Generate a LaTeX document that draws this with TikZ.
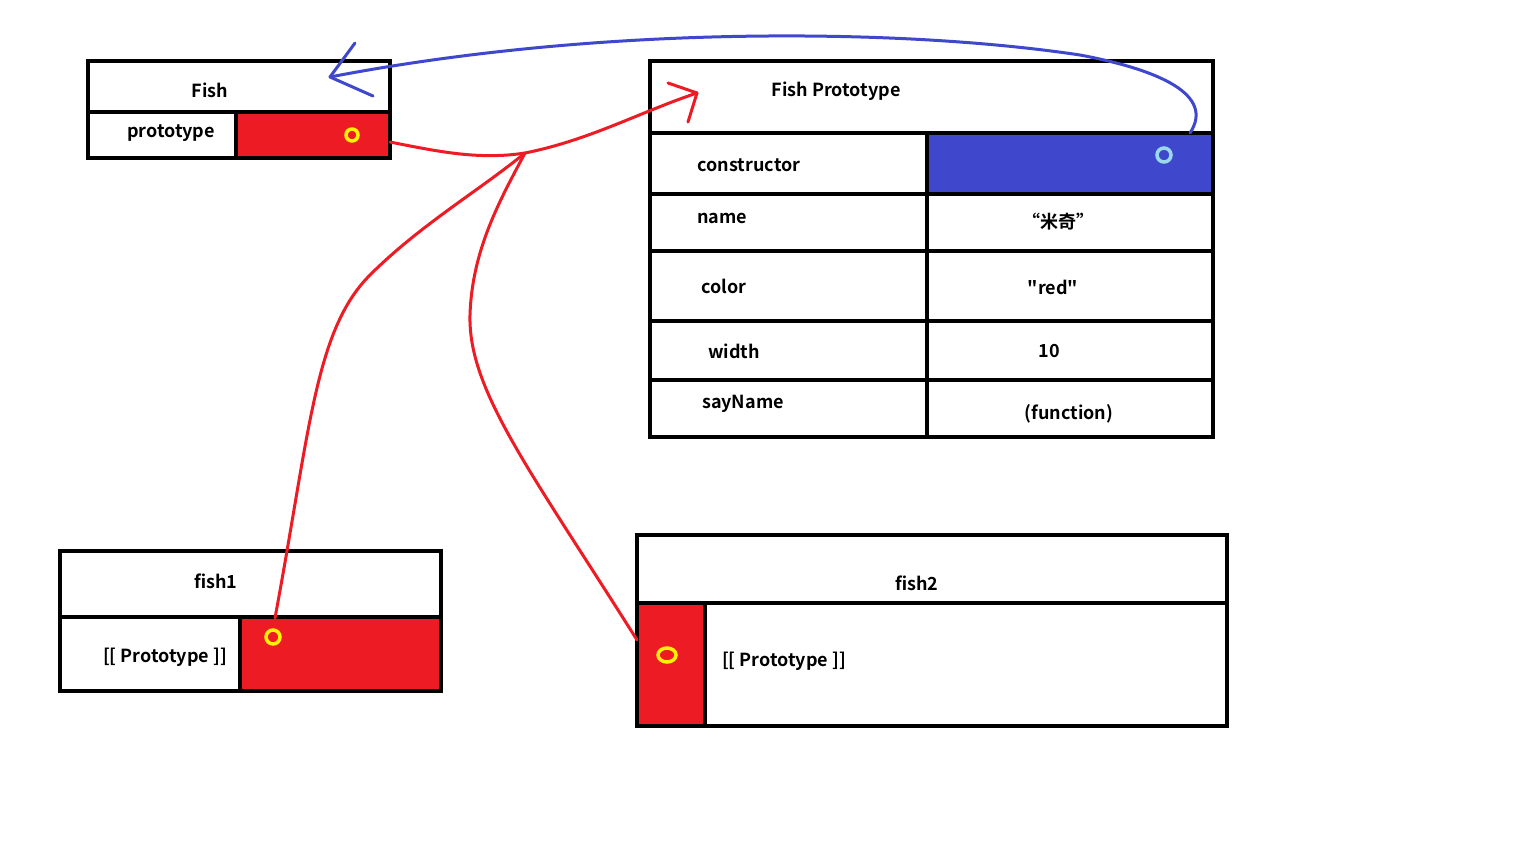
\documentclass[tikz,border=0pt]{standalone}
\usepackage{fontspec}
\newfontfamily\labelfont{Noto Sans CJK SC Bold}
\begin{document}
\definecolor{pred}{HTML}{ED1C24}
\definecolor{pblue}{HTML}{3F48CC}
\definecolor{pyellow}{HTML}{FFF200}
\definecolor{pcyan}{HTML}{99D9EA}
\tikzset{
  box/.style={draw=black, line width=4pt},
  sep/.style={draw=black, line width=4pt},
  lbl/.style={font=\labelfont\fontsize{18}{20}\selectfont, inner sep=0pt},
  link/.style={draw=pred, line width=3pt, line cap=round, line join=round},
  back/.style={draw=pblue, line width=3pt, line cap=round, line join=round},
  ring/.style={draw=pyellow, line width=3.5pt},
}
\begin{tikzpicture}[x=1pt, y=-1pt]
\useasboundingbox[fill=white] (0,0) rectangle (1536,864);

% ---- Fish constructor ----
\fill[pred] (236,112) rectangle (390,158);
\draw[box] (88,61) rectangle (390,158);
\draw[sep] (88,112) -- (390,112);
\draw[sep] (236,112) -- (236,158);
\draw[ring] (352,135) circle (6);
\node[lbl] (fishT) at (210,90) {Fish};
\node[lbl] (fishP) at (171,133) {prototype};
\coordinate (fishOut) at (390,142);
\coordinate (fishIn) at (330,77);

% ---- Fish Prototype table ----
\fill[pblue] (927,133) rectangle (1213,194);
\draw[box] (650,61) rectangle (1213,437);
\foreach \yy in {133,194,251,321,380} \draw[sep] (650,\yy) -- (1213,\yy);
\draw[sep] (927,133) -- (927,437);
\draw[draw=pcyan, line width=3.5pt] (1164,155) circle (7);
\node[lbl] (protoT) at (836,91) {Fish Prototype};
\node[lbl] (kCons) at (749,165) {constructor};
\node[lbl] (kName) at (722,218) {name};
\node[lbl] (kColor) at (724,286) {color};
\node[lbl] (kWidth) at (734,351) {width};
\node[lbl] (kSay) at (743,404) {sayName};
\node[lbl] (vName) at (1058,222) {“米奇”};
\node[lbl] (vColor) at (1053,287) {"red"};
\node[lbl] (vWidth) at (1049,351) {10};
\node[lbl] (vSay) at (1069,414) {(function)};
\coordinate (consOut) at (1190,133);
\coordinate (protoIn) at (697,93);

% ---- fish1 instance ----
\fill[pred] (240,617) rectangle (441,691);
\draw[box] (60,551) rectangle (441,691);
\draw[sep] (60,617) -- (441,617);
\draw[sep] (240,617) -- (240,691);
\draw[ring] (273,637) circle (7);
\node[lbl] (f1T) at (216,581) {fish1};
\node[lbl] (f1P) at (165,657) {[[ Prototype ]]};
\coordinate (f1Out) at (275,618);

% ---- fish2 instance ----
\fill[pred] (637,603) rectangle (705,726);
\draw[box] (637,535) rectangle (1227,726);
\draw[sep] (637,603) -- (1227,603);
\draw[sep] (705,603) -- (705,726);
\draw[ring] (667,655) ellipse (9 and 7);
\node[lbl] (f2T) at (917,583) {fish2};
\node[lbl] (f2P) at (784,661) {[[ Prototype ]]};
\coordinate (f2Out) at (637,640);

% ---- prototype links ----
\coordinate (meet) at (525,153);
\draw[link] (fishOut) .. controls (440,152) and (480,160) .. (meet)
  .. controls (590,140) and (640,112) .. (protoIn);
\draw[link] (protoIn) -- (668,83);
\draw[link] (protoIn) -- (688,122);
\draw[link] (f1Out) .. controls (310,430) and (315,330) .. (370,275)
  .. controls (420,225) and (480,190) .. (meet);
\draw[link] (f2Out) .. controls (530,470) and (468,390) .. (470,315)
  .. controls (472,250) and (500,200) .. (meet);

% ---- constructor back-link ----
\draw[back] (consOut) .. controls (1215,95) and (1160,70) .. (1080,55)
  .. controls (900,28) and (600,25) .. (fishIn);
\draw[back] (fishIn) -- (355,43);
\draw[back] (fishIn) -- (373,96);
\end{tikzpicture}
\end{document}
